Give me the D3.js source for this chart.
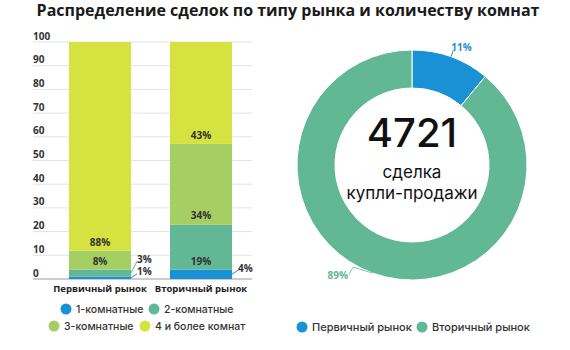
<!DOCTYPE html>
<html><head><meta charset="utf-8">
<script src="https://cdn.jsdelivr.net/npm/d3@7"></script>
<style>body{margin:0;background:#fff}svg{display:block}</style>
</head><body><svg id="c" width="570" height="350"></svg>
<script>
const title = "Распределение сделок по типу рынка и количеству комнат";
const categories = ["Первичный рынок", "Вторичный рынок"];
const seriesNames = ["1-комнатные", "2-комнатные", "3-комнатные", "4 и более комнат"];
const primaryValues = [1, 3, 8, 88];
const secondaryValues = [4, 19, 34, 43];
const yTicks = [0, 10, 20, 30, 40, 50, 60, 70, 80, 90, 100];
const seriesColors = ["#1991d4", "#62b795", "#a5cf63", "#d4e33f"];
const donutNames = ["Первичный рынок", "Вторичный рынок"];
const donutValues = [11, 89];
const donutColors = ["#1991d4", "#62b795"];
const totalDeals = "4721";
const centerLines = ["сделка", "купли-продажи"];

const svg = d3.select("#c");
const F1 = "'Open Sans', sans-serif";
const F2 = "Inter, 'Noto Sans', sans-serif";

svg.append("text").attr("x", 288).attr("y", 15.5).attr("text-anchor", "middle")
  .attr("font-family", F1).attr("font-weight", 700).attr("font-size", 16)
  .attr("fill", "#1a1a1a").text(title);

// ---- stacked bars ----
const x = d3.scaleBand().domain(categories).range([49.5, 251.5]).paddingInner(0.386).paddingOuter(0.193);
const y = d3.scaleLinear().domain([0, 100]).range([279, 42]);
const gx0 = 33, gx1 = 252;

const grid = svg.append("g");
yTicks.forEach(t => {
  grid.append("line").attr("x1", gx0).attr("x2", gx1).attr("y1", y(t)).attr("y2", y(t))
    .attr("stroke", t === 0 ? "#9a9a9a" : "#e3e3e3").attr("stroke-width", 1);
  grid.append("text").attr("x", gx0).attr("y", y(t) - 2.5)
    .attr("font-family", F1).attr("font-weight", 700).attr("font-size", 10)
    .attr("fill", "#333").text(t);
});

const rows = categories.map((c, i) => {
  const o = { cat: c };
  const vals = i === 0 ? primaryValues : secondaryValues;
  seriesNames.forEach((s, j) => o[s] = vals[j]);
  return o;
});
const stack = d3.stack().keys(seriesNames)(rows);

const bars = svg.append("g");
stack.forEach((layer, j) => {
  bars.selectAll(null).data(layer).enter().append("rect")
    .attr("x", d => x(d.data.cat)).attr("width", x.bandwidth())
    .attr("y", d => y(d[1])).attr("height", d => y(d[0]) - y(d[1]))
    .attr("fill", seriesColors[j]);
});

// labels
categories.forEach((c, i) => {
  let lastOutY = Infinity;
  stack.forEach((layer, j) => {
    const d = layer[i];
    const v = d[1] - d[0];
    const txt = v + "%";
    if (v >= 5) {
      svg.append("text").attr("x", x(c) + x.bandwidth() / 2).attr("y", y(d[0]) - 5)
        .attr("text-anchor", "middle").attr("font-family", F1).attr("font-weight", 700)
        .attr("font-size", 10).attr("fill", "#333").text(txt);
    } else {
      const mid = (y(d[0]) + y(d[1])) / 2;
      let ly = Math.min(mid - 6, lastOutY - 12.5);
      lastOutY = ly;
      const bx = x(c) + x.bandwidth();
      svg.append("line").attr("x1", bx).attr("y1", mid).attr("x2", bx + 6).attr("y2", ly + 2)
        .attr("stroke", seriesColors[j]).attr("stroke-width", 1);
      svg.append("text").attr("x", bx + 6).attr("y", ly + 3.5)
        .attr("font-family", F1).attr("font-weight", 700)
        .attr("font-size", 10).attr("fill", "#333").text(txt);
    }
  });
  svg.append("text").attr("x", x(c) + x.bandwidth() / 2).attr("y", 291.5)
    .attr("text-anchor", "middle").attr("font-family", F1).attr("font-weight", 700)
    .attr("font-size", 9.5).attr("fill", "#222").text(c);
});

// left legend
const legPos = [[66, 309], [154, 309], [54, 326], [145, 326]];
seriesNames.forEach((s, j) => {
  const [lx, ly] = legPos[j];
  svg.append("circle").attr("cx", lx).attr("cy", ly).attr("r", 5.5).attr("fill", seriesColors[j]);
  svg.append("text").attr("x", lx + 10).attr("y", ly + 4)
    .attr("font-family", F2).attr("font-weight", 500).attr("font-size", 10.5)
    .attr("fill", "#333").text(s);
});

// ---- donut ----
const cx = 412, cy = 165, rO = 115, rI = 77;
const pie = d3.pie().sort(null).value(d => d)(donutValues);
const arc = d3.arc().innerRadius(rI).outerRadius(rO);
const dg = svg.append("g").attr("transform", `translate(${cx},${cy})`);
dg.selectAll("path").data(pie).enter().append("path")
  .attr("d", arc).attr("fill", (d, i) => donutColors[i])
  .attr("stroke", "#fff").attr("stroke-width", 1);

pie.forEach((d, i) => {
  const a = (d.startAngle + d.endAngle) / 2;
  const px = r => Math.sin(a) * r, py = r => -Math.cos(a) * r;
  const x0 = px(rO), y0 = py(rO);
  const lab = donutValues[i] + "%";
  if (Math.sin(a) >= 0) {
    const x1 = px(rO + 7), y1 = py(rO + 7);
    dg.append("path").attr("d", `M${x0},${y0}L${x1},${y1}`).attr("fill", "none")
      .attr("stroke", donutColors[i]).attr("stroke-width", 1);
    dg.append("text").attr("x", x1 - 2).attr("y", y1 + 1)
      .attr("font-family", F1).attr("font-weight", 700).attr("font-size", 10)
      .attr("fill", donutColors[i]).text(lab);
  } else {
    const x1 = x0 - 20, y1 = y0 - 6, x2 = x1 - 4, y2 = y0 + 1;
    dg.append("path").attr("d", `M${x0},${y0}L${x1},${y1}L${x2},${y2}`).attr("fill", "none")
      .attr("stroke", donutColors[i]).attr("stroke-width", 1).attr("opacity", 0.8);
    dg.append("text").attr("x", x2 - 1).attr("y", y2 + 5).attr("text-anchor", "end")
      .attr("font-family", F1).attr("font-weight", 700).attr("font-size", 10)
      .attr("fill", donutColors[i]).text(lab);
  }
});

dg.append("text").attr("x", 0).attr("y", -18).attr("text-anchor", "middle")
  .attr("font-family", F2).attr("font-weight", 500).attr("font-size", 40)
  .attr("fill", "#111").text(totalDeals);
dg.append("text").attr("x", 0).attr("y", 13).attr("text-anchor", "middle")
  .attr("font-family", F2).attr("font-weight", 400).attr("font-size", 17)
  .attr("fill", "#111").text(centerLines[0]);
dg.append("text").attr("x", 0).attr("y", 34).attr("text-anchor", "middle")
  .attr("font-family", F2).attr("font-weight", 400).attr("font-size", 17)
  .attr("fill", "#111").text(centerLines[1]);

// right legend
const rLeg = [[302, 327], [422, 327]];
donutNames.forEach((s, i) => {
  const [lx, ly] = rLeg[i];
  svg.append("circle").attr("cx", lx).attr("cy", ly).attr("r", 5.5).attr("fill", donutColors[i]);
  svg.append("text").attr("x", lx + 10).attr("y", ly + 4)
    .attr("font-family", F2).attr("font-weight", 500).attr("font-size", 11)
    .attr("fill", "#333").text(s);
});
</script></body></html>
